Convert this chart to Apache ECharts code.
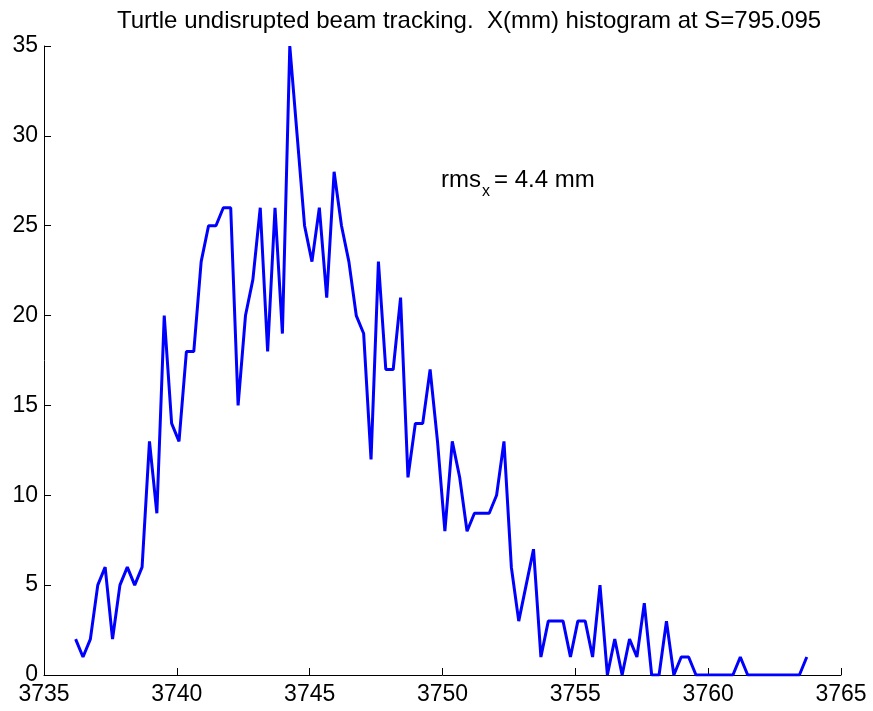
<!DOCTYPE html>
<html>
<head>
<meta charset="utf-8">
<script src="https://cdn.jsdelivr.net/npm/echarts@6/dist/echarts.min.js"></script>
<style>
  html, body { margin: 0; padding: 0; background: #ffffff; }
  #chart { width: 873px; height: 711px; }
</style>
</head>
<body>
<div id="chart"></div>
<script>
// Histogram of X (mm) at S = 795.095: 100 bins, counts per bin
const binStart = 3736.19;   // centre of the first bin
const binWidth = 0.278;     // bin width in mm
const counts = [
  2, 1, 2, 5, 6, 2, 5, 6, 5, 6,
  13, 9, 20, 14, 13, 18, 18, 23, 25, 25,
  26, 26, 15, 20, 22, 26, 18, 26, 19, 35,
  30, 25, 23, 26, 21, 28, 25, 23, 20, 19,
  12, 23, 17, 17, 21, 11, 14, 14, 17, 13,
  8, 13, 11, 8, 9, 9, 9, 10, 13, 6,
  3, 5, 7, 1, 3, 3, 3, 1, 3, 3,
  1, 5, 0, 2, 0, 2, 1, 4, 0, 0,
  3, 0, 1, 1, 0, 0, 0, 0, 0, 0,
  1, 0, 0, 0, 0, 0, 0, 0, 0, 1
];
const xTicks = [3735, 3740, 3745, 3750, 3755, 3760, 3765];
const yTicks = [0, 5, 10, 15, 20, 25, 30, 35];
const titleText = 'Turtle undisrupted beam tracking.  X(mm) histogram at S=795.095';
const rmsLabel = ['rms', 'x', '= 4.4 mm'];

const FONT = "'Liberation Sans', Arial, Helvetica, sans-serif";
const points = counts.map((c, i) => [binStart + binWidth * i, c]);

const chart = echarts.init(document.getElementById('chart'), null, { renderer: 'canvas' });

const axisCommon = {
  type: 'value',
  axisLine: { show: true, lineStyle: { color: '#000000', width: 1 } },
  axisTick: { show: true, inside: true, length: 7, lineStyle: { color: '#000000', width: 1 } },
  splitLine: { show: false },
  axisLabel: { color: '#000000', fontFamily: FONT, fontSize: 23, formatter: v => String(v) }
};

chart.setOption({
  animation: false,
  backgroundColor: '#ffffff',
  title: {
    text: titleText,
    left: 112,
    top: 4,
    textStyle: { fontFamily: FONT, fontSize: 24, fontWeight: 'normal', color: '#000000' }
  },
  grid: { left: 44, right: 32, top: 46, bottom: 36, containLabel: false },
  xAxis: Object.assign({}, axisCommon, {
    min: xTicks[0],
    max: xTicks[xTicks.length - 1],
    interval: xTicks[1] - xTicks[0],
    axisLabel: Object.assign({}, axisCommon.axisLabel, { margin: 8, showMinLabel: true, showMaxLabel: true })
  }),
  yAxis: Object.assign({}, axisCommon, {
    min: yTicks[0],
    max: yTicks[yTicks.length - 1],
    interval: yTicks[1] - yTicks[0],
    axisLabel: Object.assign({}, axisCommon.axisLabel, { margin: 6 })
  }),
  graphic: [
    { type: 'text', left: 441, top: 168,
      style: { text: rmsLabel[0], font: '24px ' + FONT, fill: '#000000' } },
    { type: 'text', left: 482, top: 184,
      style: { text: rmsLabel[1], font: '16px ' + FONT, fill: '#000000' } },
    { type: 'text', left: 494, top: 168,
      style: { text: rmsLabel[2], font: '24px ' + FONT, fill: '#000000' } }
  ],
  series: [{
    type: 'line',
    data: points,
    showSymbol: false,
    lineStyle: { color: '#0000ff', width: 3 },
    itemStyle: { color: '#0000ff' }
  }]
});
</script>
</body>
</html>
